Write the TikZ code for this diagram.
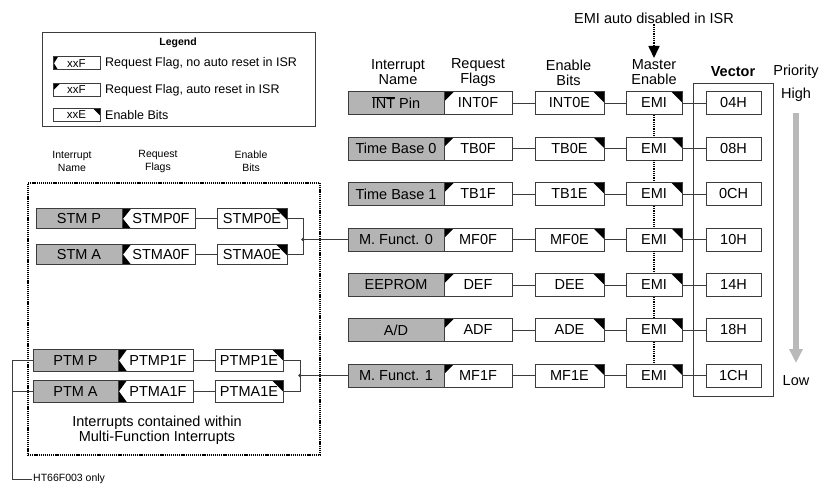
\documentclass[tikz,border=0pt]{standalone}
\usepackage{fontspec}
\setmainfont{Liberation Sans}
\usetikzlibrary{arrows.meta}
\definecolor{boxgray}{RGB}{180,180,180}
\definecolor{linegray}{RGB}{60,60,60}
\definecolor{arrowgray}{RGB}{185,185,185}
\begin{document}
\begin{tikzpicture}[x=1pt,y=-1pt,
  base/.style={draw=linegray, line width=0.9pt, inner sep=0pt, font=\fontsize{14.5}{15}\selectfont, minimum height=23pt},
  namebox/.style={base, fill=boxgray, minimum width=96pt},
  rflag/.style={base, fill=white, minimum width=68pt,
    path picture={\fill[black] (path picture bounding box.north west) -- ([xshift=#1pt]path picture bounding box.north west) -- ([yshift=-#1pt]path picture bounding box.north west) -- cycle;}},
  rflag/.default=10,
  nflag/.style={base, fill=white,
    path picture={\fill[black] (path picture bounding box.north west) -- ([xshift=#1pt]path picture bounding box.north west) -- ([xshift=1pt]path picture bounding box.west) -- cycle;
                  \fill[black] (path picture bounding box.south west) -- ([xshift=#1pt]path picture bounding box.south west) -- ([xshift=1pt]path picture bounding box.west) -- cycle;}},
  nflag/.default=9,
  enbox/.style={base, fill=white, minimum width=69pt,
    path picture={\fill[black] (path picture bounding box.north east) -- ([xshift=-#1pt]path picture bounding box.north east) -- ([yshift=-#1pt]path picture bounding box.north east) -- cycle;}},
  enbox/.default=11,
  emibox/.style={enbox, minimum width=56pt},
  vecbox/.style={base, fill=white, minimum width=55pt},
  conn/.style={draw=linegray, line width=0.9pt},
  dotline/.style={draw=black, line width=1.7pt, dash pattern=on 1pt off 0.8pt},
  hdr/.style={align=center, font=\fontsize{14.5}{15}\selectfont, inner sep=0pt},
  shdr/.style={align=center, font=\fontsize{10.5}{13}\selectfont, inner sep=0pt},
  legtxt/.style={anchor=west, inner sep=0pt, font=\fontsize{12.5}{14}\selectfont},
  legbox/.style={minimum width=47pt, minimum height=13pt, font=\fontsize{11.5}{12}\selectfont}
]
\useasboundingbox (0,0) rectangle (820,487);

% ---------- Legend ----------
\node[draw=linegray, line width=0.9pt, minimum width=273pt, minimum height=94pt] (legend) at (178.5,79) {};
\node[inner sep=0pt, font=\fontsize{10.5}{12}\selectfont\bfseries] (legtitle) at (178,43) {Legend};
\node[nflag=5, legbox] (lg1) at (76.5,63.3) {xxF};
\node[legtxt] (lt1) at (105,63.3) {Request Flag, no auto reset in ISR};
\node[rflag=7, legbox] (lg2) at (76.5,90) {xxF};
\node[legtxt] (lt2) at (105,90) {Request Flag, auto reset in ISR};
\node[enbox=7, legbox] (lg3) at (76.5,115) {xxE};
\node[legtxt] (lt3) at (105,115) {Enable Bits};

% ---------- Right headers ----------
\node[hdr] (h1) at (398,72.5) {Interrupt\\Name};
\node[hdr] (h2) at (478,72.5) {Request\\Flags};
\node[hdr] (h3) at (568.5,72.5) {Enable\\Bits};
\node[hdr] (h4) at (654,72.5) {Master\\Enable};
\node[hdr, font=\fontsize{14.5}{15}\selectfont\bfseries] (vlab) at (733,72) {Vector};
\node[hdr] (prio) at (796,72) {Priority};
\node[hdr] (high) at (796,95) {High};
\node[hdr] (low) at (796,381) {Low};

% EMI note
\node[hdr] (emitxt) at (654,18) {EMI auto disabled in ISR};
\coordinate (emiarr) at (654,58);
\draw[dotline, -{Triangle[width=11pt,length=12pt]}] (emitxt) -- (emiarr);

% vector frame
\node[draw=linegray, line width=0.9pt, minimum width=80pt, minimum height=313pt] (vframe) at (733,239.5) {};

% priority arrow
\coordinate (pa) at (796,113);
\coordinate (pb) at (796,363);
\draw[arrowgray, line width=5.5pt, -{Triangle[width=13pt,length=14pt]}] (pa) -- (pb);

% ---------- Right rows ----------
\foreach \i/\y/\nm/\fl/\en/\vc in {
  1/103/{$\overline{\hbox{INT}}$ Pin}/INT0F/INT0E/04H,
  2/148.5/{Time Base 0}/TB0F/TB0E/08H,
  3/194/{Time Base 1}/TB1F/TB1E/0CH,
  4/239.5/{M. Funct. 0}/MF0F/MF0E/10H,
  5/285/{EEPROM}/DEF/DEE/14H,
  6/330/{A\slash D}/ADF/ADE/18H,
  7/375.5/{M. Funct. 1}/MF1F/MF1E/1CH}{
  \node[namebox] (n\i) at (396,\y) {\nm};
  \node[rflag] (f\i) at (478,\y) {\fl};
  \node[enbox] (e\i) at (569.5,\y) {\en};
  \node[emibox] (m\i) at (654,\y) {EMI};
  \node[vecbox] (v\i) at (733.5,\y) {\vc};
  \draw[conn] (f\i) -- (e\i);
  \draw[conn] (e\i) -- (m\i);
  \draw[conn] (m\i) -- (v\i);
}
\foreach \i [count=\j from 2] in {1,...,6}
  \draw[dotline] (m\i) -- (m\j);

% ---------- Left panel ----------
\node[shdr] (lh1) at (72,161.5) {Interrupt\\Name};
\node[shdr] (lh2) at (158,161.5) {Request\\Flags};
\node[shdr] (lh3) at (251,161.5) {Enable\\Bits};

\node[draw=black, line width=1.6pt, dash pattern=on 1.2pt off 0.9pt, minimum width=292pt, minimum height=272pt] (mfbox) at (174,319) {};
\node[hdr] (mftxt) at (157,430.5) {Interrupts contained within\\Multi-Function Interrupts};

% STM
\node[namebox, minimum width=86pt, minimum height=20pt] (sn1) at (79,218.8) {STM P};
\node[nflag, minimum width=73pt, minimum height=20pt] (sf1) at (158.5,218.8) {\hspace*{5pt}STMP0F};
\node[enbox, minimum width=70pt, minimum height=20pt] (se1) at (252,218.8) {STMP0E};
\node[namebox, minimum width=86pt, minimum height=20pt] (sn2) at (79,254.5) {STM A};
\node[nflag, minimum width=73pt, minimum height=20pt] (sf2) at (158.5,254.5) {\hspace*{5pt}STMA0F};
\node[enbox, minimum width=70pt, minimum height=20pt] (se2) at (252,254.5) {STMA0E};
\draw[conn] (sf1) -- (se1);
\draw[conn] (sf2) -- (se2);
\coordinate (j1) at (303,239.5);
\draw[conn] (se1.east) -| (j1);
\draw[conn] (se2.east) -| (j1);
\draw[conn] (j1) -- (n4.west);
\fill[linegray] (j1) circle (1.8pt);

% PTM
\node[namebox, minimum width=85pt, minimum height=22pt] (pn1) at (75.5,360.5) {PTM P};
\node[nflag, minimum width=75pt, minimum height=22pt] (pf1) at (155.5,360.5) {\hspace*{5pt}PTMP1F};
\node[enbox, minimum width=68pt, minimum height=22pt] (pe1) at (249,360.5) {PTMP1E};
\node[namebox, minimum width=85pt, minimum height=22pt] (pn2) at (75.5,391.3) {PTM A};
\node[nflag, minimum width=75pt, minimum height=22pt] (pf2) at (155.5,391.3) {\hspace*{5pt}PTMA1F};
\node[enbox, minimum width=68pt, minimum height=22pt] (pe2) at (249,391.3) {PTMA1E};
\draw[conn] (pf1) -- (pe1);
\draw[conn] (pf2) -- (pe2);
\coordinate (j2) at (300,375.5);
\draw[conn] (pe1.east) -| (j2);
\draw[conn] (pe2.east) -| (j2);
\draw[conn] (j2) -- (n7.west);
\fill[linegray] (j2) circle (1.8pt);

% HT66F003 only
\coordinate (hc) at (12,479);
\node[anchor=west, inner sep=1pt, font=\fontsize{10.5}{12}\selectfont] (ht) at (32,479) {HT66F003 only};
\draw[conn] (pn1.west) -| (hc) -- (ht.west);
\draw[conn] (pn2.west) -- (pn2.west -| hc);
\end{tikzpicture}
\end{document}
